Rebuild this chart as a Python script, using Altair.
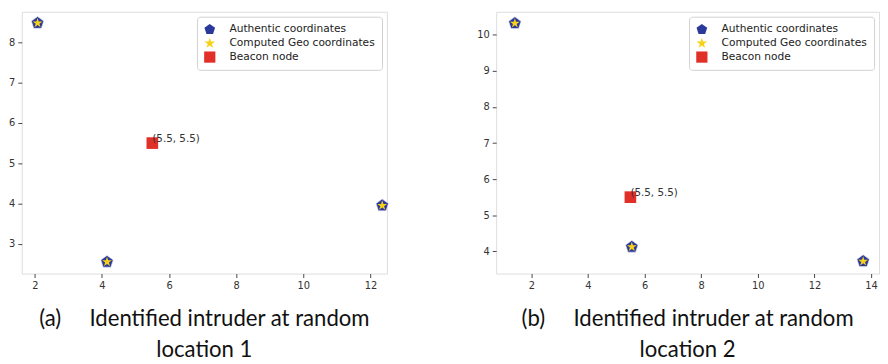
import altair as alt
import pandas as pd

# ---- data ----
series_names = ["Authentic coordinates", "Computed Geo coordinates", "Beacon node"]
series_colors = ["#2b3a9a", "#f7d117", "#e03028"]

a_auth_x = [2.08, 4.15, 12.35]
a_auth_y = [8.48, 2.55, 3.95]
a_comp_x = [2.08, 4.15, 12.35]
a_comp_y = [8.48, 2.55, 3.95]
a_beacon_x = [5.5]
a_beacon_y = [5.5]

b_auth_x = [1.42, 5.55, 13.72]
b_auth_y = [10.32, 4.12, 3.72]
b_comp_x = [1.42, 5.55, 13.72]
b_comp_y = [10.32, 4.12, 3.72]
b_beacon_x = [5.5]
b_beacon_y = [5.5]

beacon_label = "(5.5, 5.5)"

a_xticks = [2, 4, 6, 8, 10, 12]
a_yticks = [3, 4, 5, 6, 7, 8]
b_xticks = [2, 4, 6, 8, 10, 12, 14]
b_yticks = [4, 5, 6, 7, 8, 9, 10]

a_xdomain = [1.61, 12.49]
a_ydomain = [2.26, 8.76]
b_xdomain = [0.76, 14.28]
b_ydomain = [3.38, 10.64]

GAP = "\u00a0" * 5
a_caption = ["(a)" + GAP + "Identified intruder at random", "location 1"]
b_caption = ["(b)" + GAP + "Identified intruder at random", "location 2"]

PENTAGON = "M0,-1L0.951,-0.309L0.588,0.809L-0.588,0.809L-0.951,-0.309Z"
STAR = ("M0,-1L0.2245,-0.309L0.951,-0.309L0.363,0.118L0.588,0.809L0,0.382"
        "L-0.588,0.809L-0.363,0.118L-0.951,-0.309L-0.2245,-0.309Z")
shapes = [PENTAGON, STAR, "square"]


def panel(ax, ay, cx, cy, bx, by, xdom, ydom, xt, yt, w, h, caption):
    rows = []
    for x, y in zip(ax, ay):
        rows.append({"x": x, "y": y, "series": series_names[0], "label": ""})
    for x, y in zip(cx, cy):
        rows.append({"x": x, "y": y, "series": series_names[1], "label": ""})
    for x, y in zip(bx, by):
        rows.append({"x": x, "y": y, "series": series_names[2], "label": beacon_label})
    df = pd.DataFrame(rows)

    axis_style = dict(title=None, grid=False, domain=False, tickSize=4,
                      tickColor="#444", labelColor="#333", labelFont="DejaVu Sans",
                      labelFontSize=10, labelPadding=3)
    xenc = alt.X("x:Q", scale=alt.Scale(domain=xdom, nice=False, zero=False),
                 axis=alt.Axis(values=xt, **axis_style))
    yenc = alt.Y("y:Q", scale=alt.Scale(domain=ydom, nice=False, zero=False),
                 axis=alt.Axis(values=yt, **axis_style))
    color = alt.Color("series:N",
                      scale=alt.Scale(domain=series_names, range=series_colors),
                      legend=alt.Legend(title=None, orient="top-right", offset=5,
                                        fillColor="white", strokeColor="#d0d0d0",
                                        cornerRadius=3, padding=7,
                                        labelFont="DejaVu Sans", labelFontSize=10.8,
                                        labelColor="#222", labelOffset=14,
                                        symbolSize=130, rowPadding=3,
                                        symbolStrokeWidth=0))
    shape = alt.Shape("series:N", scale=alt.Scale(domain=series_names, range=shapes),
                      legend=alt.Legend(title=None, orient="top-right"))

    base = alt.Chart(df)
    auth = base.transform_filter(alt.datum.series == series_names[0]).mark_point(
        filled=True, opacity=1, size=175, stroke="#e8e8f4", strokeWidth=0.6
    ).encode(x=xenc, y=yenc, color=color, shape=shape)
    comp = base.transform_filter(alt.datum.series == series_names[1]).mark_point(
        filled=True, opacity=1, size=110
    ).encode(x=xenc, y=yenc, color=color, shape=shape)
    beacon = base.transform_filter(alt.datum.series == series_names[2]).mark_point(
        filled=True, opacity=1, size=140
    ).encode(x=xenc, y=yenc, color=color, shape=shape)
    label = base.transform_filter(alt.datum.label != "").mark_text(
        align="left", baseline="alphabetic", fontSize=10.5, font="DejaVu Sans",
        color="#333", dy=-1
    ).encode(x=xenc, y=yenc, text="label:N")

    return alt.layer(auth, comp, beacon, label).properties(
        width=w, height=h,
        title=alt.TitleParams(caption, orient="bottom", anchor="middle", frame="group",
                              font="Lato", fontSize=22.5,
                              fontWeight="normal", color="#111", offset=18,
                              lineHeight=32),
    )


pa = panel(a_auth_x, a_auth_y, a_comp_x, a_comp_y, a_beacon_x, a_beacon_y,
           a_xdomain, a_ydomain, a_xticks, a_yticks, 371, 266, a_caption)
pb = panel(b_auth_x, b_auth_y, b_comp_x, b_comp_y, b_beacon_x, b_beacon_y,
           b_xdomain, b_ydomain, b_xticks, b_yticks, 389, 266, b_caption)

chart = alt.hconcat(pa, pb, spacing=86).resolve_scale(
    color="independent", shape="independent"
).properties(padding=0).configure_view(
    stroke="#444", strokeWidth=1
).configure(background="white")

chart.save("out.html", embed_options={"renderer": "svg", "actions": False})
